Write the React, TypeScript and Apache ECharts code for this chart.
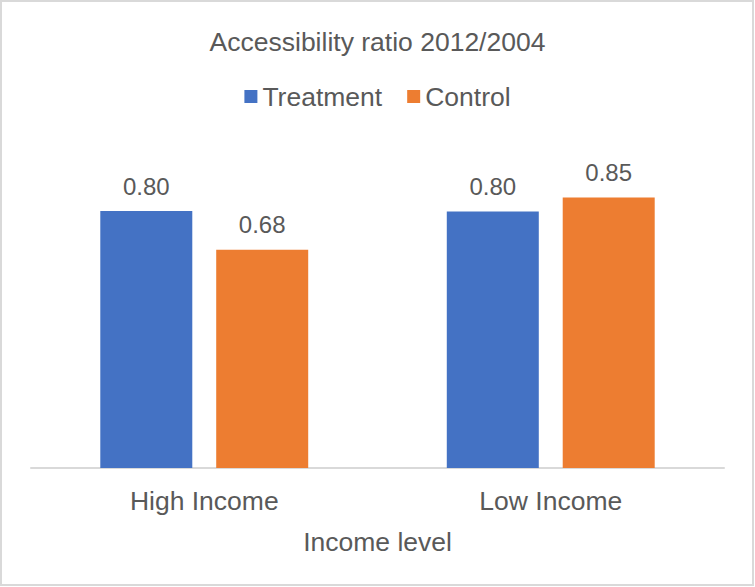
import React, { useEffect, useRef } from "react";
import * as echarts from "echarts";

const categories = ["High Income", "Low Income"];
const treatment = [0.804, 0.803];
const control = [0.683, 0.847];
const seriesNames = ["Treatment", "Control"];
const titleText = "Accessibility ratio 2012/2004";
const axisName = "Income level";

const FONT = "'Liberation Sans', Arial, sans-serif";
const TEXT = "#595959";
const FS = 26.5;

export default function App() {
  const ref = useRef<HTMLDivElement>(null);
  useEffect(() => {
    if (!ref.current) return;
    const chart = echarts.init(ref.current, undefined, { renderer: "svg" });
    const label = {
      show: true,
      position: "top",
      distance: 13,
      fontSize: 24,
      fontFamily: FONT,
      color: TEXT,
      formatter: (p: any) => Number(p.value).toFixed(2),
    };
    chart.setOption({
      animation: false,
      backgroundColor: "#ffffff",
      textStyle: { fontFamily: FONT, color: TEXT },
      graphic: [
        {
          type: "rect",
          shape: { x: 1, y: 1, width: 752, height: 584 },
          style: { fill: "none", stroke: "#d9d9d9", lineWidth: 2 },
          silent: true,
        },
      ],
      title: {
        text: titleText,
        left: "center",
        top: 28,
        padding: 0,
        textStyle: { fontSize: FS, fontWeight: "normal", color: TEXT, fontFamily: FONT },
      },
      legend: {
        top: 83,
        left: "center",
        padding: 0,
        itemWidth: 13,
        itemHeight: 13,
        itemGap: 25,
        icon: "rect",
        textStyle: { fontSize: FS, color: TEXT, fontFamily: FONT },
        data: seriesNames,
      },
      grid: { left: 31, right: 31, top: 148.5, bottom: 119, containLabel: false },
      xAxis: {
        type: "category",
        data: categories,
        axisLine: { show: true, lineStyle: { color: "#d9d9d9", width: 2 } },
        axisTick: { show: false },
        axisLabel: { fontSize: FS, color: TEXT, fontFamily: FONT, margin: 19 },
        name: axisName,
        nameLocation: "middle",
        nameGap: 60,
        nameTextStyle: { fontSize: FS, color: TEXT, fontFamily: FONT },
      },
      yAxis: {
        type: "value",
        min: 0,
        max: 1,
        show: false,
        splitLine: { show: false },
      },
      series: [
        {
          name: seriesNames[0],
          type: "bar",
          data: treatment,
          barWidth: 92,
          barGap: "26%",
          itemStyle: { color: "#4472C4" },
          label,
        },
        {
          name: seriesNames[1],
          type: "bar",
          data: control,
          barWidth: 92,
          barGap: "26%",
          itemStyle: { color: "#ED7D31" },
          label,
        },
      ],
    });
    return () => chart.dispose();
  }, []);
  return (
    <div
      ref={ref}
      style={{ position: "fixed", left: 0, top: 0, width: 755, height: 587 }}
    />
  );
}
